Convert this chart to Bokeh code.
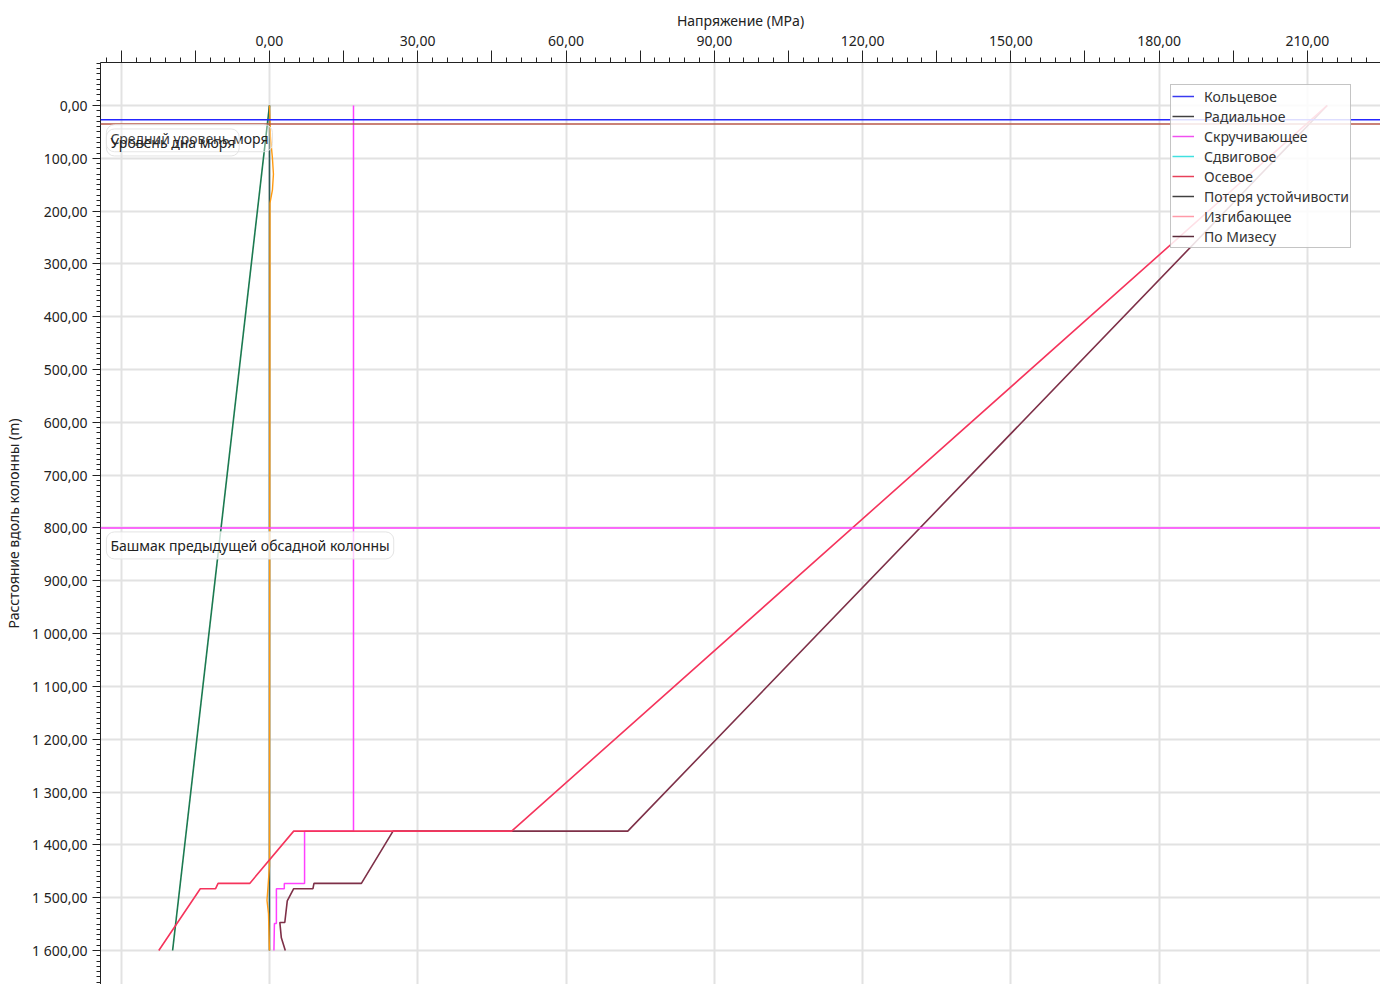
from bokeh.plotting import figure
from bokeh.models import (Range1d, FixedTicker, CustomJSTickFormatter, Label,
                          Legend, LegendItem, Span)
from bokeh.embed import file_html
from bokeh.resources import INLINE

FONT = "Noto Sans"

# ---------------- data (stress in MPa, depth in m) ----------------
axial_depth = [0, 1374, 1374, 1473, 1473, 1483, 1483, 1600]
axial_stress = [214.0, 49.0, 4.9, -4.0, -10.4, -10.9, -14.0, -22.4]

vonmises_depth = [0, 1374, 1374, 1473, 1473, 1483, 1483, 1506, 1547, 1547, 1576, 1600]
vonmises_stress = [214.0, 72.5, 25.0, 18.6, 9.0, 8.8, 4.9, 3.6, 3.1, 2.1, 2.4, 3.2]

torsion_depth = [0, 1374, 1374, 1473, 1473, 1483, 1483, 1549, 1549, 1600]
torsion_stress = [17.0, 17.0, 7.1, 7.1, 3.0, 3.0, 1.4, 1.4, 1.0, 0.9]

radial_depth = [0, 1600]
radial_stress = [0.0, -19.6]

buckling_depth = [0, 1600]
buckling_stress = [0.0, 0.0]

bending_depth = [0, 60, 100, 130, 160, 185, 1440, 1480, 1505, 1530, 1600]
bending_stress = [0.0, 0.2, 0.6, 0.8, 0.6, 0.1, 0.0, -0.3, -0.5, -0.2, 0.0]

sea_level_depth = 27
seabed_depth = 35
casing_shoe_depth = 800

legend_labels = ["Кольцевое", "Радиальное", "Скручивающее", "Сдвиговое",
                 "Осевое", "Потеря устойчивости", "Изгибающее", "По Мизесу"]
legend_colors = ["#3a3af0", "#404040", "#f050f0", "#40e0e0",
                 "#e8405a", "#404040", "#ff9aa8", "#5a2a3a"]

x_major = list(range(-30, 226, 15))
x_minor = list(range(-33, 226, 3))
x_grid = list(range(-30, 226, 30))
y_major = list(range(0, 1700, 100))
y_minor = list(range(-80, 1670, 10))

# ---------------- figure ----------------
p = figure(width=1380, height=984,
           x_range=Range1d(-34.19, 224.8), y_range=Range1d(1664.4, -81.4),
           x_axis_location="above", output_backend="svg", toolbar_location=None,
           min_border_left=100, min_border_top=62, min_border_right=0, min_border_bottom=0)
p.outline_line_color = None
p.background_fill_color = "white"

xa = p.xaxis[0]
xa.ticker = FixedTicker(ticks=x_major, minor_ticks=x_minor)
xa.formatter = CustomJSTickFormatter(code="""
    if (tick < -1e-9 || Math.abs(Math.round(tick) % 30) != 0) return "";
    return tick.toFixed(2).replace('.', ',');
""")
xa.axis_label = "Напряжение (MPa)"
xa.major_tick_out = 12
xa.major_tick_in = 0
xa.minor_tick_out = 5
xa.minor_tick_in = 0
xa.major_label_standoff = 5
xa.axis_label_standoff = 3

ya = p.yaxis[0]
ya.ticker = FixedTicker(ticks=y_major, minor_ticks=y_minor)
ya.formatter = CustomJSTickFormatter(code="""
    const parts = tick.toFixed(2).split('.');
    const ip = parts[0].replace(/\\B(?=(\\d{3})+(?!\\d))/g, ' ');
    return ip + ',' + parts[1];
""")
ya.axis_label = "Расстояние вдоль колонны (m)"
ya.major_tick_out = 8
ya.major_tick_in = 0
ya.minor_tick_out = 4
ya.minor_tick_in = 0
ya.major_label_standoff = 5
ya.axis_label_standoff = 6

for ax in (xa, ya):
    ax.axis_line_color = "#222222"
    ax.major_tick_line_color = "#222222"
    ax.minor_tick_line_color = "#222222"
    ax.major_label_text_font = FONT
    ax.major_label_text_font_size = "14px"
    ax.major_label_text_color = "#222222"
    ax.axis_label_text_font = FONT
    ax.axis_label_text_font_size = "14px"
    ax.axis_label_text_font_style = "normal"
    ax.axis_label_text_color = "#222222"

p.xgrid.ticker = FixedTicker(ticks=x_grid)
p.xgrid.grid_line_color = "#e2e2e2"
p.xgrid.grid_line_width = 2
p.ygrid.grid_line_color = "#e2e2e2"
p.ygrid.grid_line_width = 2

# ---------------- reference levels ----------------
p.add_layout(Span(location=casing_shoe_depth, dimension="width", line_color="#ff40ff", line_width=1.5))
p.add_layout(Span(location=sea_level_depth, dimension="width", line_color="#2525ff", line_width=1.5))
p.add_layout(Span(location=seabed_depth, dimension="width", line_color="#b8584a", line_width=1.5))

# ---------------- series ----------------
p.line(radial_stress, radial_depth, line_color="#1b7a50", line_width=1.6)
p.line(buckling_stress, buckling_depth, line_color="#2e5a55", line_width=1.6)
p.line(bending_stress, bending_depth, line_color="#ff9a10", line_width=1.4)
p.line(torsion_stress, torsion_depth, line_color="#ff40ff", line_width=1.5)
p.line(vonmises_stress, vonmises_depth, line_color="#7e3048", line_width=1.6)
p.line(axial_stress, axial_depth, line_color="#f5345c", line_width=1.6)

# ---------------- labels ----------------
lbl_kw = dict(text_font=FONT, text_font_size="14px", text_color="#222222",
              text_baseline="middle", background_fill_color="white",
              background_fill_alpha=0.35, border_line_color="#e4e4e4",
              border_line_alpha=1.0, padding=4, border_radius=8)
p.add_layout(Label(x=-33.0, y=62, text="Средний уровень моря", **lbl_kw))
p.add_layout(Label(x=-33.0, y=70, text="Уровень дна моря",
                   **dict(lbl_kw, background_fill_alpha=0.12)))
p.add_layout(Label(x=-33.0, y=833, text="Башмак предыдущей обсадной колонны",
                   **dict(lbl_kw, background_fill_alpha=0.75)))

# ---------------- legend ----------------
nan = float("nan")
items = []
for lab, col in zip(legend_labels, legend_colors):
    r = p.line([nan], [nan], line_color=col, line_width=1.5)
    items.append(LegendItem(label=lab, renderers=[r]))
legend = Legend(items=items, location=(1070, 736))
legend.label_text_font = FONT
legend.label_text_font_size = "14px"
legend.label_text_color = "#333333"
legend.label_height = 20
legend.glyph_height = 20
legend.glyph_width = 22
legend.spacing = 0
legend.padding = 1
legend.label_standoff = 10
legend.background_fill_color = "white"
legend.background_fill_alpha = 0.85
legend.border_line_color = "#8a8a8a"
legend.border_line_width = 1
p.add_layout(legend, "center")

open("out.html", "w").write(file_html(p, INLINE))
